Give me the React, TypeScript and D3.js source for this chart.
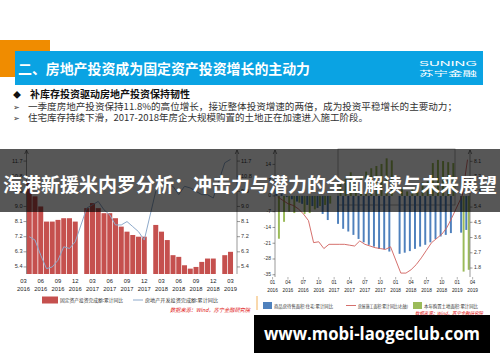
import React from "react";
import * as d3 from "d3";

// ---- left chart: fixed asset investment vs real estate investment ----
const leftMonths = [
  "2016-03", "2016-04", "2016-05", "2016-06", "2016-07", "2016-08", "2016-09", "2016-10", "2016-11", "2016-12",
  "2017-01", "2017-02", "2017-03", "2017-04", "2017-05", "2017-06", "2017-07", "2017-08", "2017-09", "2017-10", "2017-11", "2017-12",
  "2018-01", "2018-02", "2018-03", "2018-04", "2018-05", "2018-06", "2018-07", "2018-08", "2018-09", "2018-10", "2018-11", "2018-12",
  "2019-01", "2019-02", "2019-03",
];
// 固定资产投资完成额:累计同比
const fixedInvest = [
  null, 10.5, 9.6, 9.0, 8.1, 8.1, 8.2, 8.3, 8.3, 8.1,
  null, 8.9, 9.2, 8.9, 8.6, 8.6, 8.3, 7.8, 7.5, 7.3, 7.2, 7.2,
  null, 7.9, 7.5, 7.0, 6.1, 6.0, 5.5, 5.3, 5.4, 5.7, 5.9, 5.9,
  null, 6.1, 6.3,
];
// 房地产开发投资完成额:累计同比
const realEstateInvest = [
  null, 7.2, 7.0, 6.1, 5.3, 5.4, 5.8, 6.6, 6.5, 6.9,
  null, 8.9, 9.1, 9.3, 8.8, 8.5, 7.9, 7.9, 8.1, 7.8, 7.5, 7.0,
  null, 9.9, 10.4, 10.3, 10.2, 9.7, 10.2, 10.1, 9.9, 9.7, 9.7, 9.5,
  null, 11.6, 11.8,
];
const leftTickMonths = [
  "2016-03", "2016-06", "2016-09", "2016-12", "2017-03", "2017-06", "2017-09",
  "2017-12", "2018-03", "2018-06", "2018-09", "2018-12", "2019-03",
];
const leftYTicks = [5.4, 6.3, 7.2, 8.1, 9.0, 9.9, 10.8, 11.7];

// ---- right chart: inventory, land purchase, construction ----
const rightMonths = [
  "2016-01", "2016-02", "2016-03", "2016-04", "2016-05", "2016-06", "2016-07", "2016-08", "2016-09", "2016-10", "2016-11", "2016-12",
  "2017-01", "2017-02", "2017-03", "2017-04", "2017-05", "2017-06", "2017-07", "2017-08", "2017-09", "2017-10", "2017-11", "2017-12",
  "2018-01", "2018-02", "2018-03", "2018-04", "2018-05", "2018-06", "2018-07", "2018-08", "2018-09", "2018-10", "2018-11", "2018-12",
  "2019-01", "2019-02", "2019-03", "2019-04",
];
// 商品房待售面积:住宅:累计同比
const housingStock = [
  null, 2.5, 1.0, -0.5, -1.5, -2.5, -3.5, -4.0, -4.5, -5.3, -8.0, -10.7,
  null, -12.4, -14.6, -15.8, -17.3, -19.1, -20.6, -21.7, -22.5, -23.5, -23.7, -24.7,
  null, -25.7, -25.2, -24.5, -23.5, -22.5, -21.7, -20.6, -19.1, -18.0, -17.3, -16.5,
  null, -16.3, -15.1, null,
];
// 本年购置土地面积:累计同比
const landPurchase = [
  null, -19.0, -11.5, -7.0, -7.6, -3.0, -8.0, -7.6, -6.0, -4.5, -4.0, -3.4,
  null, 5.8, 7.6, 10.5, 6.5, 8.9, 10.8, 12.3, 13.3, 14.2, 16.7, 15.8,
  null, 3.2, 2.0, 4.0, 5.5, 6.0, 6.5, 14.6, 16.0, 15.5, 15.0, 14.6,
  null, -33.6, -32.8, null,
];
// 房屋施工面积:累计同比(右轴)
const construction = [
  null, 6.0, 5.8, 5.6, 5.5, 5.3, 5.0, 4.6, 3.3, 3.35, 2.95, 3.2,
  null, 3.2, 3.2, 3.15, 3.1, 3.4, 3.2, 3.1, 3.0, 2.95, 2.9, 3.05,
  null, 1.5, 1.5, 1.7, 2.0, 2.4, 2.85, 3.3, 3.55, 3.8, 4.2, 4.8,
  null, 6.1, 8.2, null,
];
const rightTickMonths = [
  "2016-01", "2016-04", "2016-07", "2016-10", "2017-01", "2017-04", "2017-07",
  "2017-10", "2018-01", "2018-04", "2018-07", "2018-10", "2019-01", "2019-04",
];
const rightYTicks = [-35, -28, -21, -14, -7, 0, 7, 14];
const rightY2Ticks = [1.8, 2.7, 3.6, 4.5, 5.4, 6.3, 7.2, 8.1];

const LAT = "'Liberation Sans', Arial, 'Noto Sans CJK SC', sans-serif";
const CJK = "'Noto Sans CJK SC', 'Liberation Sans', sans-serif";

function Arrow({ x, y }: { x: number; y: number }) {
  return <path d={`M${x - 1.8},${y + 4} L${x},${y} L${x + 1.8},${y + 4}`} fill="none" stroke="#555" strokeWidth={0.7} />;
}

function LeftChart() {
  const x = d3.scaleBand<string>().domain(leftMonths).range([20.6, 233.4]).paddingInner(0.13).paddingOuter(0.065);
  const y = d3.scaleLinear().domain([4.98, 12.36]).range([274, 150]);
  const cx = (m: string) => (x(m) as number) + x.bandwidth() / 2;
  const pts = leftMonths
    .map((m, i) => [m, realEstateInvest[i]] as [string, number | null])
    .filter((d) => d[1] != null) as [string, number][];
  const line = d3.line<[string, number]>().x((d) => cx(d[0])).y((d) => y(d[1]));
  return (
    <g>
      {leftMonths.map((m, i) =>
        fixedInvest[i] == null ? null : (
          <rect key={m} x={x(m)} y={y(fixedInvest[i] as number)} width={x.bandwidth()}
            height={y.range()[0] - y(fixedInvest[i] as number)} fill="#c5504e" />
        )
      )}
      <path d={line(pts) || ""} fill="none" stroke="#8eaacb" strokeWidth={1} />
      <line x1={26.5} x2={26.5} y1={150} y2={274} stroke="#555" strokeWidth={0.6} />
      <line x1={237} x2={237} y1={150} y2={274} stroke="#555" strokeWidth={0.6} />
      <Arrow x={26.5} y={150} />
      <Arrow x={237} y={150} />
      {leftYTicks.map((t) => (
        <g key={t} fontFamily={LAT} fontSize={5.6} fill="#333">
          <line x1={23.5} x2={26.5} y1={y(t)} y2={y(t)} stroke="#555" strokeWidth={0.6} />
          <text x={22.5} y={y(t)} textAnchor="end" dominantBaseline="middle">{t.toFixed(1)}</text>
          <line x1={237} x2={240} y1={y(t)} y2={y(t)} stroke="#555" strokeWidth={0.6} />
          <text x={241} y={y(t)} dominantBaseline="middle">{t.toFixed(1)}</text>
        </g>
      ))}
      {leftTickMonths.map((m) => (
        <g key={m} fontFamily={LAT} fontSize={5.8} fill="#222" textAnchor="middle">
          <text x={cx(m)} y={283}>{m.slice(5)}</text>
          <text x={cx(m)} y={291}>{m.slice(0, 4)}</text>
        </g>
      ))}
      <rect x={42} y={296.5} width={16} height={7} fill="#c5504e" />
      <text x={60} y={302} fontFamily={CJK} fontSize={4.8} fill="#333" textLength={63} lengthAdjust="spacingAndGlyphs">固定资产投资完成额:累计同比</text>
      <line x1={133} x2={143} y1={300} y2={300} stroke="#8eaacb" strokeWidth={1} />
      <text x={145} y={302} fontFamily={CJK} fontSize={4.8} fill="#333" textLength={73} lengthAdjust="spacingAndGlyphs">房地产开发投资完成额:累计同比</text>
      <text x={170} y={312} fontFamily={CJK} fontSize={5.4} fill="#e01010" fontStyle="italic" textLength={80} lengthAdjust="spacingAndGlyphs">数据来源：Wind，苏宁金融研究院</text>
    </g>
  );
}

function RightChart() {
  const x = d3.scaleBand<string>().domain(rightMonths).range([270, 475.2]);
  const sub = d3.scaleBand<string>().domain(["stock", "land"]).range([0, x.step()]).paddingInner(0.2).paddingOuter(0.15);
  const y = d3.scaleLinear().domain([-36, 20.4]).range([277, 150]);
  const y2 = d3.scaleLinear().domain([1.27, 8.77]).range([277, 150]);
  const cx = (m: string) => (x(m) as number) + x.bandwidth() / 2;
  const pts = rightMonths
    .map((m, i) => [m, construction[i]] as [string, number | null])
    .filter((d) => d[1] != null) as [string, number][];
  const line = d3.line<[string, number]>().x((d) => cx(d[0])).y((d) => y2(d[1]));
  const bar = (m: string, v: number | null, key: string, color: string) =>
    v == null ? null : (
      <rect key={key + m} x={(x(m) as number) + (sub(key) as number)} width={sub.bandwidth()}
        y={Math.min(y(v), y(0))} height={Math.abs(y(v) - y(0))} fill={color} />
    );
  return (
    <g>
      <rect x={338} y={149} width={117} height={56} fill="none" stroke="#9a9a9a" strokeWidth={0.8} />
      {rightMonths.map((m, i) => bar(m, housingStock[i], "stock", "#4f81bd"))}
      {rightMonths.map((m, i) => bar(m, landPurchase[i], "land", "#9bbb59"))}
      <path d={line(pts) || ""} fill="none" stroke="#d0605c" strokeWidth={0.9} />
      <line x1={275} x2={275} y1={150} y2={277} stroke="#555" strokeWidth={0.6} />
      <line x1={470} x2={470} y1={150} y2={277} stroke="#555" strokeWidth={0.6} />
      <Arrow x={275} y={150} />
      <Arrow x={470} y={150} />
      {rightYTicks.map((t) => (
        <g key={t} fontFamily={LAT} fontSize={5} fill="#333">
          <line x1={272.5} x2={275} y1={y(t)} y2={y(t)} stroke="#555" strokeWidth={0.6} />
          <text x={271} y={y(t)} textAnchor="end" dominantBaseline="middle">{t}</text>
        </g>
      ))}
      {rightY2Ticks.map((t) => (
        <g key={t} fontFamily={LAT} fontSize={5} fill="#333">
          <line x1={470} x2={472.5} y1={y2(t)} y2={y2(t)} stroke="#555" strokeWidth={0.6} />
          <text x={474} y={y2(t)} dominantBaseline="middle">{t.toFixed(1)}</text>
        </g>
      ))}
      {rightTickMonths.map((m) => (
        <g key={m} fontFamily={LAT} fontSize={4.8} fill="#222" textAnchor="middle">
          <line x1={cx(m)} x2={cx(m)} y1={277} y2={279.5} stroke="#666" strokeWidth={0.5} />
          <text x={cx(m)} y={284}>{m.slice(5)}</text>
          <text x={cx(m)} y={292}>{m.slice(0, 4)}</text>
        </g>
      ))}
      <line x1={257} x2={257} y1={296} y2={310} stroke="#f0a030" strokeWidth={0.8} />
      <rect x={263} y={302} width={9} height={7} fill="#4f81bd" />
      <text x={274} y={307.5} fontFamily={CJK} fontSize={4.4} fill="#333" textLength={59} lengthAdjust="spacingAndGlyphs">商品房待售面积:住宅:累计同比</text>
      <line x1={346} x2={356} y1={305.5} y2={305.5} stroke="#d0605c" strokeWidth={0.9} />
      <text x={358} y={307.5} fontFamily={CJK} fontSize={4.4} fill="#333" textLength={50} lengthAdjust="spacingAndGlyphs">房屋施工面积:累计同比(右轴)</text>
      <rect x={413} y={302} width={9} height={7} fill="#9bbb59" />
      <text x={424} y={307.5} fontFamily={CJK} fontSize={4.4} fill="#333" textLength={54} lengthAdjust="spacingAndGlyphs">本年购置土地面积:累计同比</text>
      <text x={415} y={315} fontFamily={CJK} fontSize={4.6} fill="#e01010" fontStyle="italic" textLength={68} lengthAdjust="spacingAndGlyphs">数据来源：Wind，苏宁金融研究院</text>
    </g>
  );
}

export default function App() {
  return (
    <svg width={500} height={362} viewBox="0 0 500 362" style={{ position: "absolute", left: 0, top: 0, background: "#fff" }}>
      <rect width={500} height={362} fill="#fff" />
      {/* slide header */}
      <rect x={0} y={40} width={50} height={37} fill="#f08c00" />
      <rect x={15} y={51} width={468} height={34} fill="#0aa3e3" />
      <text x={18} y={73.5} fontFamily={CJK} fontWeight={700} fontSize={14} fill="#fff" textLength={292} lengthAdjust="spacingAndGlyphs">二、房地产投资成为固定资产投资增长的主动力</text>
      <text x={419} y={66} fontFamily={LAT} fontSize={8} fill="#fff" textLength={58} lengthAdjust="spacingAndGlyphs">SUNING</text>
      <text x={419} y={76} fontFamily={CJK} fontSize={7} fill="#fff" textLength={58} lengthAdjust="spacingAndGlyphs">苏宁金融</text>
      {/* bullets */}
      <text x={13} y={97.5} fontFamily={CJK} fontSize={8} fill="#111">◆</text>
      <text x={30} y={97.5} fontFamily={CJK} fontWeight={700} fontSize={10} fill="#111">补库存投资驱动房地产投资保持韧性</text>
      <text x={13} y={110} fontFamily={CJK} fontSize={8} fill="#333">➢</text>
      <text x={28} y={110} fontFamily={CJK} fontSize={9.6} fill="#333" textLength={429} lengthAdjust="spacingAndGlyphs">一季度房地产投资保持11.8%的高位增长，接近整体投资增速的两倍，成为投资平稳增长的主要动力；</text>
      <text x={13} y={121} fontFamily={CJK} fontSize={8} fill="#333">➢</text>
      <text x={28} y={121} fontFamily={CJK} fontSize={9.6} fill="#333" textLength={340} lengthAdjust="spacingAndGlyphs">住宅库存持续下滑，2017-2018年房企大规模购置的土地正在加速进入施工阶段。</text>
      <LeftChart />
      <RightChart />
      {/* title banner overlay */}
      <rect x={0} y={149} width={500} height={63} fill="#000" opacity={0.66} />
      <text x={250} y={192} textAnchor="middle" fontFamily={CJK} fontWeight={700} fontSize={19} fill="#fff" textLength={494} lengthAdjust="spacingAndGlyphs">海港新援米内罗分析：冲击力与潜力的全面解读与未来展望</text>
      {/* watermark */}
      <rect x={254} y={315} width={236} height={38} fill="#000" />
      <text x={372} y={340} textAnchor="middle" fontFamily="'Open Sans', 'DejaVu Sans', sans-serif" fontWeight={700} fontSize={17} fill="#fff" textLength={216} lengthAdjust="spacingAndGlyphs">www.mobi-laogeclub.com</text>
    </svg>
  );
}
